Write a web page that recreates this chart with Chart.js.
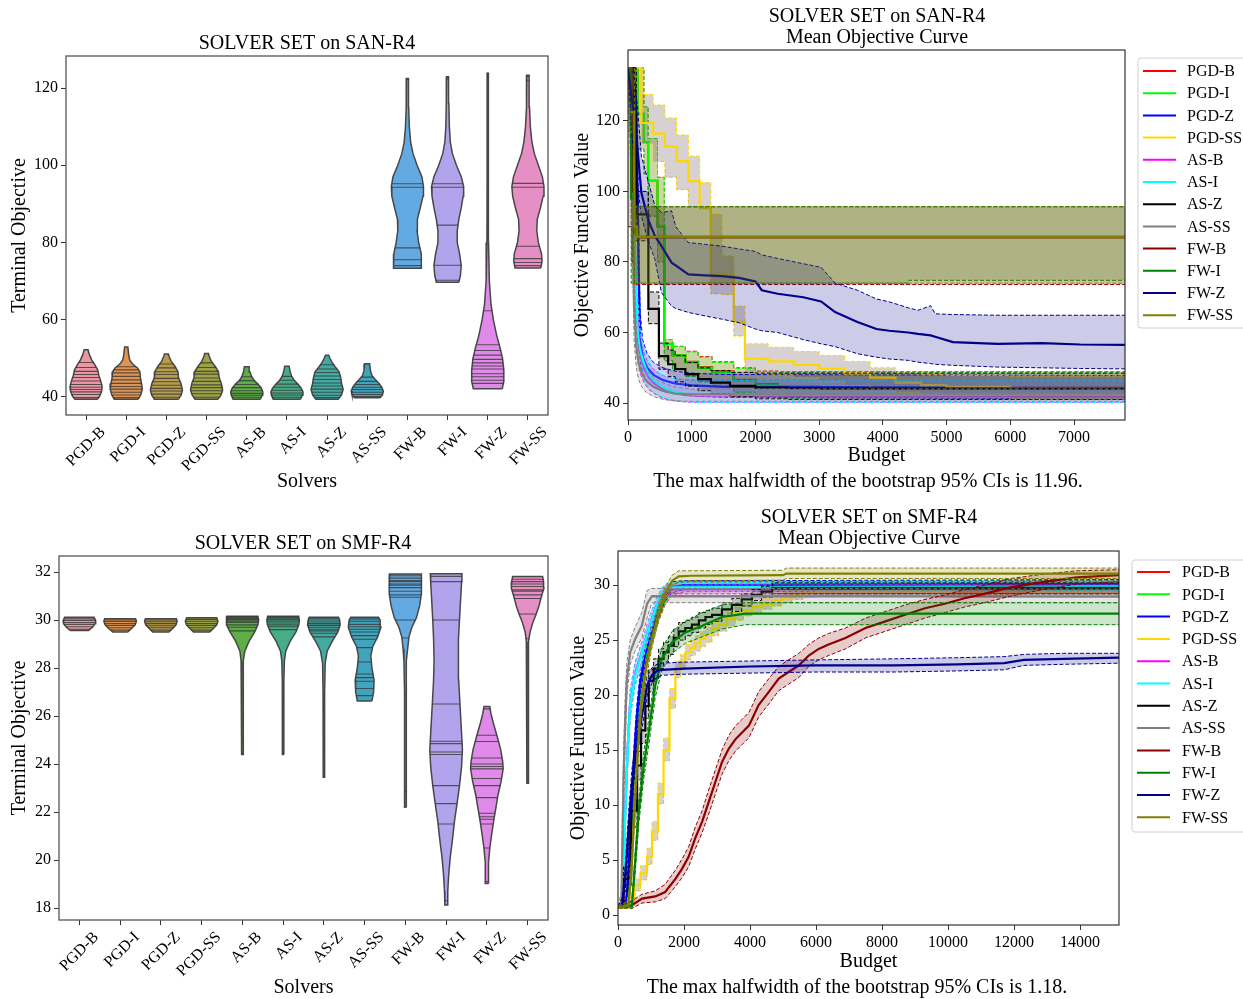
<!DOCTYPE html>
<html><head><meta charset="utf-8">
<script src="https://cdn.jsdelivr.net/npm/chart.js@4.4.1/dist/chart.umd.min.js"></script>
<style>
html,body{margin:0;padding:0;background:#fff;width:1243px;height:999px;overflow:hidden;}
canvas{position:absolute;left:0;top:0;}
</style></head><body>
<canvas id="cA" width="1243" height="1020"></canvas>
<canvas id="cB" width="1243" height="1020"></canvas>
<canvas id="cC" width="1243" height="1020"></canvas>
<canvas id="cD" width="1243" height="1020"></canvas>
<script>
// ---------------- categories ----------------
const solverNames = ['PGD-B','PGD-I','PGD-Z','PGD-SS','AS-B','AS-I','AS-Z','AS-SS','FW-B','FW-I','FW-Z','FW-SS'];

// ---------------- tick labels ----------------
const sanViolinYTicks = [40,60,80,100,120];
const smfViolinYTicks = [18,20,22,24,26,28,30,32];
const sanCurveXTicks = [0,1000,2000,3000,4000,5000,6000,7000];
const sanCurveYTicks = [40,60,80,100,120];
const smfCurveXTicks = [0,2000,4000,6000,8000,10000,12000,14000];
const smfCurveYTicks = [0,5,10,15,20,25,30];

// ---------------- violin data: [terminal objective, relative density width] ----------------
const sanViolinKnots = [
 [[39.4,0.7],[40.2,0.85],[41.5,0.97],[42.7,1.0],[44,0.92],[45.5,0.8],[47,0.72],[48.3,0.55],[49.6,0.35],[51,0.2],[52.2,0.12]],
 [[39.4,0.75],[40.5,0.9],[42,1.0],[43.5,0.95],[45,0.88],[46.5,0.85],[47.5,0.7],[48.5,0.4],[49.5,0.22],[51,0.15],[52.9,0.1]],
 [[39.4,0.75],[40.5,0.92],[41.8,1.0],[43.5,0.9],[45,0.75],[46.5,0.72],[47.8,0.55],[49.2,0.3],[50.3,0.18],[51.1,0.12]],
 [[39.4,0.72],[40.5,0.9],[41.8,1.0],[43.5,0.92],[45,0.78],[46.5,0.74],[47.8,0.55],[49.2,0.3],[50.3,0.18],[51.2,0.12]],
 [[39.4,0.85],[40.5,0.97],[41.3,1.0],[42.3,0.9],[43.3,0.7],[44.3,0.45],[45.3,0.3],[46.5,0.2],[47.8,0.15]],
 [[39.4,0.85],[40.5,0.97],[41.3,1.0],[42.3,0.88],[43.3,0.68],[44.3,0.45],[45.3,0.3],[46.5,0.2],[47.9,0.14]],
 [[39.4,0.7],[40.5,0.9],[42,1.0],[43.5,0.9],[45,0.85],[46.5,0.75],[47.8,0.5],[49,0.3],[50,0.18],[50.8,0.1]],
 [[39.8,0.8],[40.5,0.95],[41.5,1.0],[42.5,0.9],[43.5,0.72],[44.5,0.5],[45.5,0.3],[46.8,0.2],[48.6,0.15]],
 [[73.3,0.85],[75,0.88],[77,0.85],[80,0.7],[83,0.6],[86,0.62],[89,0.8],[92,0.97],[94.5,1.0],[97,0.9],[100,0.6],[103,0.35],[106,0.2],[110,0.12],[115,0.08],[120,0.07],[122.5,0.06]],
 [[69.7,0.7],[71.5,0.8],[74,0.85],[77,0.75],[80,0.6],[83,0.6],[86,0.7],[89,0.85],[92,0.97],[94.5,1.0],[97,0.85],[100,0.55],[103,0.3],[106,0.17],[110,0.11],[116,0.08],[122.9,0.06]],
 [[42.1,0.9],[44,1.0],[47,1.0],[50,0.92],[53,0.75],[56,0.55],[60,0.35],[64,0.2],[70,0.1],[80,0.05],[95,0.04],[110,0.04],[123.8,0.04]],
 [[73.4,0.8],[75,0.88],[77,0.85],[80,0.65],[83,0.55],[86,0.58],[89,0.78],[92,0.95],[94.5,1.0],[97,0.9],[100,0.65],[103,0.4],[106,0.25],[110,0.15],[115,0.1],[120,0.08],[123.3,0.07]]
];
const sanViolinSticks = [
 [39.8,40.6,41.3,41.9,42.5,43.2,44.1,45,45.8,46.6,47.6,48.9],
 [39.8,40.5,41.2,42,42.7,43.5,44.4,45.3,46.2,47,47.8],
 [39.9,40.7,41.5,42.2,43,43.9,44.8,45.8,46.5,47.5,48.5],
 [39.9,40.8,41.6,42.4,43.1,44,44.9,45.9,46.6,47.6,48.8],
 [39.9,40.4,40.9,41.6,42.4,43.2,44.2,45.2],
 [39.9,40.5,41,41.7,42.5,43.3,44.3,45.3],
 [39.8,40.4,41.2,42,42.8,43.6,44.5,45.4,46.3,47.2,48.3],
 [40.1,40.6,41.2,41.9,42.5,43.2,44,45.1],
 [74,75.5,78.6,94.3,95.2,122.2],
 [70.2,74.1,84.5,94.3,95.2,122.2,122.8],
 [43.5,44.3,45.2,46,47.2,48,48.8,49.7,50.8,52,53.5,62.3,123,123.8],
 [74,74.8,75.8,79,94.3,95.3,122,123]
];
const smfViolinKnots = [
 [[29.56,0.55],[29.7,0.8],[29.85,0.97],[29.98,1.0],[30.12,0.9]],
 [[29.5,0.45],[29.65,0.7],[29.8,0.92],[29.95,1.0],[30.06,0.95]],
 [[29.5,0.5],[29.65,0.72],[29.8,0.93],[29.95,1.0],[30.06,0.95]],
 [[29.5,0.5],[29.65,0.72],[29.8,0.93],[29.95,1.0],[30.1,0.92]],
 [[24.4,0.05],[26,0.04],[27.5,0.05],[28.3,0.08],[28.7,0.15],[29.1,0.4],[29.5,0.75],[29.8,0.95],[30,1.0],[30.16,0.95]],
 [[24.4,0.05],[26,0.04],[27.5,0.05],[28.3,0.08],[28.7,0.16],[29.1,0.42],[29.5,0.78],[29.8,0.96],[30,1.0],[30.16,0.95]],
 [[23.45,0.04],[25,0.04],[27,0.05],[28.2,0.08],[28.7,0.2],[29.1,0.5],[29.5,0.85],[29.8,1.0],[30,0.97],[30.12,0.9]],
 [[26.63,0.45],[27,0.55],[27.5,0.58],[28,0.45],[28.5,0.38],[28.9,0.5],[29.3,0.8],[29.7,1.0],[30,0.95],[30.12,0.85]],
 [[22.2,0.06],[23,0.05],[25,0.04],[27,0.05],[28.3,0.09],[28.8,0.14],[29.3,0.22],[29.7,0.4],[30.1,0.68],[30.6,0.88],[31.1,0.98],[31.5,1.0],[31.92,0.97]],
 [[18.12,0.08],[18.7,0.1],[19.4,0.16],[20.1,0.25],[20.8,0.38],[21.6,0.51],[22.4,0.68],[23.1,0.82],[23.9,0.95],[24.6,1.0],[25.5,0.93],[26.6,0.84],[27.5,0.77],[28.3,0.74],[29.2,0.77],[30,0.82],[31,0.9],[31.6,0.95],[31.93,0.97]],
 [[19.02,0.1],[19.9,0.1],[20.5,0.18],[21.1,0.3],[21.6,0.41],[22.2,0.56],[22.7,0.68],[23.3,0.88],[23.8,1.0],[24.1,0.97],[24.6,0.85],[25.2,0.61],[25.7,0.4],[26.1,0.25],[26.4,0.18]],
 [[23.2,0.05],[25,0.04],[27,0.04],[28.5,0.05],[29.1,0.08],[29.5,0.15],[29.9,0.32],[30.22,0.51],[30.6,0.7],[30.92,0.82],[31.33,1.0],[31.6,0.98],[31.82,0.92]]
];
const smfViolinSticks = [
 [29.62,29.72,29.82,29.9,29.98,30.05],
 [29.58,29.68,29.78,29.86,29.94,30.0],
 [29.58,29.68,29.76,29.85,29.93,30.0],
 [29.58,29.68,29.78,29.86,29.95,30.03],
 [24.45,29.55,29.7,29.8,29.9,29.95,30.0,30.05,30.1,30.14],
 [24.45,29.6,29.72,29.8,29.88,29.95,30.02,30.08,30.13],
 [23.5,29.3,29.45,29.55,29.62,29.7,29.78,29.85,29.92,30.0,30.08],
 [26.85,27.15,27.45,27.6,27.75,28.25,28.85,29.2,29.35,29.5,29.62,29.72,29.82,29.95,30.05],
 [22.85,29.25,30.0,30.95,31.05,31.2,31.35,31.45,31.5,31.6,31.65,31.75,31.85],
 [18.3,21.5,22.35,23.1,24.4,24.5,24.85,24.95,26.5,30.0,31.6,31.82],
 [19.1,20.5,21.5,21.7,21.8,21.95,22.6,23.1,23.4,23.8,23.9,24.0,24.25,24.94,25.2,26.3],
 [29.22,30.25,30.9,31.05,31.2,31.26,31.4,31.5,31.6,31.7]
];

// ---------------- mean objective curves: rows [budget, mean, lower CI, upper CI] ----------------
// SAN-R4
const sanPGDB = [[0,135,135,135],[150,122,112,135],[250,114,105,124],[316,103,93,115],[463,90,80,104],[570,56.8,52,58],[700,53.6,49.6,56.1],[900,51.7,47.7,54.7],[1100,50.2,46.2,53.2],[1320,49,45,51.7],[1660,46.6,43.1,50],[2000,45.4,42.1,49.1],[2350,44.7,41.4,48.9],[3000,44.4,41.1,48.9],[7800,44.4,41.1,48.9]];
const sanPGDI = [[0,135,135,135],[150,122,112,135],[250,114,105,124],[316,103,93,115],[463,90,80,104],[570,56.8,52,58],[700,53.5,49.5,56],[900,51.5,47.5,54.5],[1100,50,46,53],[1320,48.8,44.8,51.5],[1660,46.4,43,49.8],[2000,45.2,42,49],[2350,44.5,41.3,48.8],[3000,44.2,41,48.8],[7800,44.2,41,48.8]];
const sanPGDZ = [[0,135,135,135],[80,128,120,135],[120,118,106,130],[150,100,88,115],[170,75,65,88],[190,58,52,66],[230,53,48.5,58],[300,50,46,54],[400,48,44.5,51.5],[550,46.5,43.3,50],[750,45.5,42.5,49],[1000,45,42,48.5],[1500,44.6,41.6,48.1],[7800,44.3,41.2,47.8]];
const sanPGDSS = [[0,135,135,135],[210,119.4,113.5,127.5],[395,116.4,108.5,124.5],[579,112.8,104,120.8],[763,108.6,100.5,116],[947,102.9,95.5,110],[1125,95.5,95,102.5],[1300,76.3,71,93.5],[1474,76.3,70.8,81.7],[1660,63,59,67.5],[1835,52.6,48.6,56.8],[2200,51.8,48,55.8],[2600,50.8,47.2,54.6],[3000,49.8,46.2,53.5],[3400,48.4,45,51.8],[3800,47.2,44,50],[4200,45.8,43,48.5],[4600,45.1,42.3,48],[5000,44.6,41.8,47.8],[6000,44.3,41.3,47.7],[7800,44.2,41.2,47.6]];
const sanASB = [[0,135,135,135],[50,125,112,135],[90,95,80,110],[130,64,55,75],[170,56,50,62],[210,52.5,47.5,57],[260,49.5,45.5,53.5],[330,47.2,43.8,51],[400,45.8,42.8,49.5],[500,44.5,41.8,48.2],[600,43.6,41.1,47.4],[750,42.8,40.6,46.9],[900,42.3,40.3,46.6],[1100,42.1,40.2,46.5],[7800,42.1,40.2,46.5]];
const sanASI = [[0,135,135,135],[60,120,108,135],[100,88,75,102],[140,62,54,73],[180,56,50.5,62],[220,53,48.3,57.5],[270,50.3,46,54],[330,48,44.3,51.5],[400,46.5,43,49.8],[500,45,42,48.4],[600,44,41.3,47.5],[750,43.1,40.7,46.9],[900,42.6,40.4,46.6],[1100,42.3,40.2,46.5],[7800,42.3,40.2,46.5]];
const sanASZ = [[0,135,135,135],[100,122,110,135],[130,93.5,86,100],[320,66.7,62.5,71.5],[485,53.3,49.6,57],[630,51,47.5,55],[740,49.6,46,53.5],[900,48.2,44.8,51.5],[1100,46.8,43.5,50],[1300,45.8,42.6,49.2],[1600,44.9,41.8,48.7],[2000,44.4,41.2,48.5],[2500,44.2,41,48.5],[3000,44.1,41,48.5],[7800,44.1,41,48.5]];
const sanASSS = [[0,135,135,135],[60,110,95,125],[95,67,58,78],[130,56,50,61],[170,51,46.5,54.5],[210,48.7,44.8,52],[260,47,43.5,50],[316,45.8,42.7,48.7],[400,44.6,41.9,47.2],[474,44,41.4,46.4],[600,43.2,40.9,45.3],[740,42.7,40.6,44.6],[1000,42.5,40.5,44],[7800,42.5,40.5,44]];
const sanFWB = [[0,135,90,135],[60,100,80,120],[100,89,73.6,96],[150,87,73.6,95.7],[7800,87,73.6,95.7]];
const sanFWI = [[0,135,135,135],[50,98,74,118],[100,88,74,95.7],[150,87.1,74,95.7],[4400,87.1,74.8,95.7],[7800,87.1,74.8,95.7]];
const sanFWZ = [[0,135,135,135],[60,126,116,135],[100,122,110,131],[150,112,102,124],[210,99.6,93,110],[316,92.1,86,103],[421,87.4,80.8,96],[526,84.5,71.3,94],[684,79.8,67.5,94.5],[750,79,66.8,90],[947,76.5,65.7,85.5],[1210,76.2,64.7,85],[1470,76,63.8,84.5],[1740,75.5,62.8,83.7],[2000,74.5,61,83],[2100,72,60.5,82],[2350,71,60,81],[2750,70,58,79.5],[3030,68.8,56.8,78.5],[3250,65.8,56,74],[3600,63,54,72],[3900,61,53,69.5],[4100,60.5,52.5,68.7],[4400,60,52.1,67],[4550,59.6,51.6,66.3],[4750,59.2,51.2,67.6],[4820,58.8,51,65.3],[5100,57.3,50.7,65.1],[5800,56.8,50.2,64.9],[6500,57,50,64.9],[7100,56.6,49.8,64.9],[7800,56.5,49.7,64.9]];
const sanFWSS = [[0,122.5,117,135],[100,90,74,95.6],[140,87.1,74,95.6],[7800,87.1,74,95.6]];
// SMF-R4
const smfPGDB = [[0,0.7,0.6,0.8],[260,1,0.7,1.4],[330,3.5,2.5,4.6],[430,9.8,8.6,11],[510,14.5,13.3,15.7],[590,18,16.9,19.1],[690,20.8,19.8,21.8],[840,23.4,22.5,24.3],[1040,25.5,24.7,26.3],[1240,27.5,26.8,28.2],[1440,28.9,28.3,29.5],[1650,29.6,29.1,30.1],[2000,29.8,29.4,30.3],[15180,29.9,29.5,30.3]];
const smfPGDI = [[0,0.7,0.6,0.8],[250,1,0.7,1.4],[320,3.3,2.3,4.4],[420,9.4,8.2,10.6],[500,14.2,13,15.4],[580,17.8,16.7,18.9],[680,20.6,19.6,21.6],[830,23.3,22.4,24.2],[1030,25.4,24.6,26.2],[1230,27.5,26.8,28.2],[1430,29,28.4,29.6],[1640,29.8,29.3,30.3],[2000,30,29.6,30.4],[15180,30,29.6,30.4]];
const smfPGDZ = [[0,0.7,0.6,0.8],[240,1,0.7,1.4],[310,3.5,2.5,4.6],[410,9.8,8.6,11],[490,14.5,13.3,15.7],[570,18,16.9,19.1],[670,21,20,22],[820,23.6,22.7,24.5],[1020,25.7,24.9,26.5],[1220,27.7,27,28.4],[1420,29.1,28.5,29.7],[1630,29.8,29.3,30.3],[2000,30,29.6,30.4],[15180,30.1,29.7,30.5]];
const smfPGDSS = [[0,0.7,0.6,0.8],[320,1.5,1.1,2],[505,2.7,2.2,3.3],[680,3.8,3.2,4.5],[880,5.3,4.6,6.1],[1030,7.6,6.8,8.5],[1210,11,10.1,12],[1380,15,14,16.1],[1560,19.7,18.8,20.6],[1740,22.4,21.6,23.1],[1890,23,22.3,23.7],[2040,23.9,23.2,24.6],[2200,24.3,23.6,25],[2340,24.7,24,25.4],[2500,25.1,24.4,25.8],[2650,25.5,24.8,26.2],[2850,26,25.4,26.6],[3050,26.4,25.8,27],[3300,26.9,26.3,27.5],[3550,27.4,26.8,28],[3800,27.7,27.2,28.2],[4060,28,27.5,28.5],[4350,28.3,27.8,28.8],[4670,28.6,28.1,29.1],[4970,28.85,28.4,29.3],[5270,29.1,28.7,29.5],[5600,29.3,28.9,29.7],[6000,29.4,29,29.8],[15180,29.4,29,29.8]];
const smfASB = [[0,0.7,0.6,0.8],[120,1,0.7,1.5],[170,3.5,2.2,5],[220,9.6,8,11.2],[300,15.6,14.2,17],[370,19.3,18.1,20.5],[520,22,21,23],[730,24,23.1,24.9],[930,26.1,25.3,26.9],[1130,27.9,27.2,28.6],[1330,29.2,28.7,29.7],[1490,29.6,29.2,30],[15180,29.7,29.25,30.1]];
const smfASI = [[0,0.7,0.6,0.8],[120,1,0.7,1.5],[170,3.3,2,4.8],[220,9.4,7.8,11],[300,15.4,14,16.8],[370,19.1,17.9,20.3],[520,21.8,20.8,22.8],[730,23.9,23,24.8],[930,26,25.2,26.8],[1130,27.8,27.1,28.5],[1330,29.3,28.8,29.8],[1490,29.8,29.4,30.2],[15180,29.9,29.5,30.3]];
const smfASZ = [[0,0.7,0.6,0.8],[120,0.9,0.7,1.3],[170,3.3,2.2,4.4],[330,3.5,2.5,4.5],[400,9.5,8,11],[580,13.6,12.3,14.9],[700,16.8,15.6,18],[830,19,17.9,20.1],[930,21.3,20.3,22.3],[1080,22.4,21.5,23.3],[1230,23.3,22.4,24.2],[1380,23.9,23,24.8],[1530,24.5,23.7,25.3],[1690,25.2,24.4,26],[1840,25.8,25,26.6],[2040,26.1,25.4,26.8],[2240,26.4,25.7,27.1],[2450,26.8,26.1,27.5],[2650,27.1,26.4,27.7],[2850,27.3,26.7,27.9],[3150,27.8,27.2,28.4],[3450,28.2,27.6,28.8],[3750,28.7,28.1,29.2],[4060,29.1,28.6,29.6],[4350,29.4,28.9,29.9],[4670,29.7,29.2,30.2],[15180,29.8,29.2,30.45]];
const smfASSS = [[0,0.7,0.6,0.8],[100,1,0.7,2],[130,6,4,9],[170,12.7,10,15],[220,17.8,15.5,20],[270,21.5,20,23],[370,23.9,22.8,25],[520,25.1,24,26.2],[720,26.3,25.2,27.5],[880,28.3,27,29.5],[1030,29,28.4,29.7],[15180,28.95,28.4,29.65]];
const smfFWB = [[0,0.7,0.6,0.8],[220,0.76,0.6,1],[420,0.9,0.6,1.3],[730,1.5,1.1,1.9],[1130,1.7,1.2,2.2],[1430,2.1,1.5,2.8],[1740,3.3,2.6,4.1],[1940,4.2,3.4,5.1],[2140,5.3,4.4,6.2],[2340,7,6,8],[2550,8.5,7.5,9.5],[2750,10.3,9.2,11.4],[2950,12.1,11,13.2],[3150,13.9,12.8,15],[3350,15.1,14,16.3],[3560,16,14.9,17.2],[3760,16.6,15.5,17.8],[3960,17.2,16.1,18.4],[4060,17.8,16.7,19],[4260,19.1,18,20.3],[4570,20.3,19.2,21.5],[4870,21.5,20.4,22.6],[5170,22.1,21,23.2],[5480,22.7,21.6,23.8],[5780,23.6,22.6,24.6],[6080,24.2,23.2,25.2],[6380,24.6,23.6,25.6],[6890,25.2,24.2,26.1],[7500,26.1,25.2,27],[8100,26.7,25.8,27.6],[8700,27.3,26.4,28.2],[9300,27.9,27,28.7],[9900,28.3,27.5,29.1],[10500,28.8,28,29.6],[11100,29.2,28.4,30],[11900,29.8,29,30.6],[12900,30.3,29.6,31],[13900,30.7,30.1,31.3],[15180,30.9,30.3,31.4]];
const smfFWI = [[0,0.7,0.6,0.8],[420,0.8,0.6,1.2],[520,4.8,3.8,5.8],[630,9.4,8.3,10.5],[780,13.6,12.4,14.8],[930,16.6,15.4,17.8],[1130,20.9,19.8,22],[1330,23.3,22.3,24.3],[1640,24.8,23.8,25.8],[2040,25.7,24.7,26.7],[2550,26.3,25.3,27.5],[3150,27.1,26,28.2],[3860,27.4,26.4,28.4],[15180,27.4,26.4,28.4]];
const smfFWZ = [[0,0.7,0.6,0.8],[120,0.9,0.7,1.5],[220,3.3,2.2,4.5],[320,7.9,6.6,9.3],[420,11.8,10.5,13.2],[520,14.2,13,15.4],[630,16.6,15.4,17.8],[780,19.1,17.9,20.2],[880,20.9,19.9,21.7],[1030,21.8,21.1,22.5],[1180,22.2,21.6,22.8],[1330,22.3,21.8,22.9],[2000,22.4,21.9,23],[4000,22.6,22,23.1],[6000,22.7,22.1,23.2],[8400,22.7,22.1,23.3],[10300,22.8,22.2,23.4],[11700,22.9,22.3,23.5],[12300,23.2,22.7,23.7],[13500,23.3,22.8,23.8],[15180,23.4,22.9,23.8]];
const smfFWSS = [[0,0.7,0.6,0.8],[320,0.9,0.6,1.3],[420,4.8,3.8,5.8],[500,9.4,8.3,10.5],[580,13.9,12.8,15],[680,18.4,17.4,19.4],[830,22.1,21.2,23],[1030,25.1,24.3,25.9],[1230,27.5,26.8,28.2],[1430,29.2,28.6,29.8],[1640,30.4,29.9,30.9],[1840,30.8,30.3,31.3],[2200,30.85,30.4,31.3],[5000,30.9,30.45,31.35],[5100,31.05,30.6,31.55],[15180,31.05,30.6,31.55]];

const sanSeries = [sanPGDB,sanPGDI,sanPGDZ,sanPGDSS,sanASB,sanASI,sanASZ,sanASSS,sanFWB,sanFWI,sanFWZ,sanFWSS];
const smfSeries = [smfPGDB,smfPGDI,smfPGDZ,smfPGDSS,smfASB,smfASI,smfASZ,smfASSS,smfFWB,smfFWI,smfFWZ,smfFWSS];
const sanStepped = ['PGD-B','PGD-I','PGD-SS','AS-Z','FW-B','FW-I','FW-SS'];
const smfStepped = ['PGD-SS','AS-Z'];

// ---------------- styles ----------------
const violinColors = ['#ea96a3','#e0944f','#b89d4a','#9ea445','#5cae45','#45ae88','#43aaa3','#41a4bc','#63aae3','#b2a4ec','#df8ae9','#e68fc4'];
const lineColors = ['#ff0000','#00ff00','#0000ff','#ffd700','#ff00ff','#00ffff','#000000','#808080','#8b0000','#008000','#00008b','#808000'];
const FONT = '"Liberation Serif", "Times New Roman", serif';
Chart.defaults.font.family = FONT;
Chart.defaults.color = '#000';
const CW = 1243, CH = 1020, VW = 0.4, BIG = 20;

function hexA(h, a){const n=parseInt(h.slice(1),16);return 'rgba('+((n>>16)&255)+','+((n>>8)&255)+','+(n&255)+','+a+')';}
function widthAt(knots, v){
  if (v <= knots[0][0]) return knots[0][1];
  for (let i=1;i<knots.length;i++){ if (v <= knots[i][0]) { const a=knots[i-1], b=knots[i]; return a[1]+(b[1]-a[1])*(v-a[0])/(b[0]-a[0]); } }
  return knots[knots.length-1][1];
}

const framePlugin = {id:'frame', afterDatasetsDraw(chart, args, o){
  const a = chart.chartArea, ctx = chart.ctx; ctx.save(); ctx.strokeStyle = o.color || '#000'; ctx.lineWidth = o.width || 1;
  ctx.strokeRect(a.left, a.top, a.right-a.left, a.bottom-a.top); ctx.restore(); }};
const textPlugin = {id:'texts', afterDraw(chart, args, o){
  const ctx = chart.ctx; ctx.save(); ctx.fillStyle = '#000'; ctx.textAlign = 'center'; ctx.textBaseline = 'middle';
  (o.items||[]).forEach(it => { ctx.font = (it.size||BIG)+'px '+FONT; ctx.fillText(it.t, it.x, it.y); }); ctx.restore(); }};
const legendPlugin = {id:'boxLegend', afterDraw(chart, args, o){
  if (!o.x) return; const ctx = chart.ctx; ctx.save();
  const r=3, x=o.x, y=o.y, w=o.w, h=o.h;
  ctx.beginPath(); ctx.moveTo(x+r,y); ctx.lineTo(x+w-r,y); ctx.arcTo(x+w,y,x+w,y+r,r); ctx.lineTo(x+w,y+h-r); ctx.arcTo(x+w,y+h,x+w-r,y+h,r);
  ctx.lineTo(x+r,y+h); ctx.arcTo(x,y+h,x,y+h-r,r); ctx.lineTo(x,y+r); ctx.arcTo(x,y,x+r,y,r); ctx.closePath();
  ctx.fillStyle='rgba(255,255,255,0.85)'; ctx.fill(); ctx.strokeStyle='#d0d0d0'; ctx.lineWidth=1; ctx.stroke();
  ctx.font = '16px '+FONT; ctx.textAlign='left'; ctx.textBaseline='middle';
  solverNames.forEach((n,i)=>{ const yy = o.y0 + i*o.dy; ctx.strokeStyle = lineColors[i]; ctx.lineWidth = 2;
    ctx.beginPath(); ctx.moveTo(o.x0, yy); ctx.lineTo(o.x1, yy); ctx.stroke(); ctx.fillStyle='#000'; ctx.fillText(n, o.tx, yy+1); });
  ctx.restore(); }};

function axisCommon(ticksArr, fit, fitProp, min, max){
  return {type:'linear', min:min, max:max, bounds:'data',
    afterBuildTicks: s => { s.ticks = ticksArr.map(v => ({value:v})); },
    afterFit: s => { s[fitProp] = fit; },
    grid:{display:true, drawOnChartArea:false, drawTicks:true, tickLength:5, tickColor:'#333', lineWidth:1},
    border:{display:false}};
}

function violinChart(id, box, Wy, Hx, knotsList, sticksList, yMin, yMax, yTicks, titleItems){
  const datasets = [];
  knotsList.forEach((knots, i) => {
    const pts = [];
    knots.forEach(k => pts.push({x: i + k[1]*VW, y: k[0]}));
    for (let j = knots.length-1; j >= 0; j--) pts.push({x: i - knots[j][1]*VW, y: knots[j][0]});
    pts.push({x: pts[0].x, y: pts[0].y});
    datasets.push({data: pts, showLine: true, fill: 'shape', backgroundColor: violinColors[i], borderColor: '#474747', borderWidth: 1.5, pointRadius: 0, tension: 0, order: 2});
    const st = [];
    sticksList[i].forEach(v => { const w = widthAt(knots, v)*VW; st.push({x: i-w, y: v}, {x: i+w, y: v}, {x: i, y: null}); });
    datasets.push({data: st, showLine: true, fill: false, borderColor: 'rgba(55,55,55,0.8)', borderWidth: 1.1, pointRadius: 0, spanGaps: false, order: 1});
  });
  const x = axisCommon(solverNames.map((c,i)=>i), Hx, 'height', -0.5, solverNames.length-0.5);
  x.ticks = {autoSkip:false, minRotation:45, maxRotation:45, labelOffset:17, padding:3, font:{size:16}, color:'#000', callback: v => solverNames[v]};
  x.title = {display:true, text:'Solvers', font:{size:BIG}, color:'#000'};
  const y = axisCommon(yTicks, Wy, 'width', yMin, yMax);
  y.ticks = {font:{size:16}, color:'#000', padding:3, callback: v => String(v)};
  y.title = {display:true, text:'Terminal Objective', font:{size:BIG}, color:'#000'};
  return new Chart(document.getElementById(id), {type:'scatter', data:{datasets},
    plugins:[framePlugin, textPlugin],
    options:{responsive:false, animation:false, devicePixelRatio:1,
      layout:{padding:{left:box.L-Wy, top:box.T, right:CW-box.R, bottom:CH-box.B-Hx}},
      plugins:{legend:{display:false}, tooltip:{enabled:false}, frame:{color:'#555', width:1.3}, texts:{items:titleItems}},
      scales:{x, y}}});
}

function curveChart(id, box, Wy, Hx, series, stepped, xMin, xMax, xTicks, yMin, yMax, yTicks, textItems, legend){
  const datasets = [];
  series.forEach((rows, k) => {
    const name = solverNames[k], col = lineColors[k], st = stepped.includes(name);
    const fillCol = name === 'PGD-SS' ? 'rgba(110,90,90,0.28)' : hexA(col, 0.2);
    const ord = 100 - k*3;
    datasets.push({label:name+' upper', data: rows.map(r=>({x:r[0], y:r[3]})), borderColor: col, borderWidth: 1, borderDash:[4,2], fill:'+1', backgroundColor: fillCol, stepped: st, pointRadius:0, order: ord});
    datasets.push({label:name+' lower', data: rows.map(r=>({x:r[0], y:r[2]})), borderColor: col, borderWidth: 1, borderDash:[4,2], fill:false, stepped: st, pointRadius:0, order: ord});
    datasets.push({label:name, data: rows.map(r=>({x:r[0], y:r[1]})), borderColor: col, borderWidth: 2.2, fill:false, stepped: st, pointRadius:0, order: ord-1});
  });
  const x = axisCommon(xTicks, Hx, 'height', xMin, xMax);
  x.ticks = {autoSkip:false, maxRotation:0, padding:3, font:{size:16}, color:'#000', callback: v => String(v)};
  x.title = {display:true, text:'Budget', font:{size:BIG}, color:'#000'};
  const y = axisCommon(yTicks, Wy, 'width', yMin, yMax);
  y.ticks = {font:{size:16}, color:'#000', padding:3, callback: v => String(v)};
  y.title = {display:true, text:'Objective Function Value', font:{size:BIG}, color:'#000'};
  return new Chart(document.getElementById(id), {type:'line', data:{datasets},
    plugins:[framePlugin, textPlugin, legendPlugin],
    options:{responsive:false, animation:false, devicePixelRatio:1,
      layout:{padding:{left:box.L-Wy, top:box.T, right:CW-box.R, bottom:CH-box.B-Hx}},
      plugins:{legend:{display:false}, tooltip:{enabled:false}, frame:{color:'#222', width:1.1}, texts:{items:textItems}, boxLegend: legend},
      scales:{x, y}}});
}

violinChart('cA', {L:66, T:56, R:548, B:415}, 62, 83, sanViolinKnots, sanViolinSticks, 35.3, 128.3, sanViolinYTicks,
  [{t:'SOLVER SET on SAN-R4', x:307, y:44}]);
violinChart('cC', {L:59, T:556, R:548, B:920}, 55, 84, smfViolinKnots, smfViolinSticks, 17.5, 32.67, smfViolinYTicks,
  [{t:'SOLVER SET on SMF-R4', x:303, y:544}]);
curveChart('cB', {L:628, T:50, R:1125, B:420}, 61, 52, sanSeries, sanStepped, 0, 7800, sanCurveXTicks, 35.2, 140.1, sanCurveYTicks,
  [{t:'SOLVER SET on SAN-R4', x:877, y:17},{t:'Mean Objective Curve', x:877, y:38},{t:'The max halfwidth of the bootstrap 95% CIs is 11.96.', x:868, y:482}],
  {x:1138, y:58, w:120, h:270, x0:1143, x1:1176, tx:1187, y0:71, dy:22.2});
curveChart('cD', {L:618, T:551, R:1119, B:925}, 55, 53, smfSeries, smfStepped, 0, 15180, smfCurveXTicks, -0.9, 33.1, smfCurveYTicks,
  [{t:'SOLVER SET on SMF-R4', x:869, y:518},{t:'Mean Objective Curve', x:869, y:539},{t:'The max halfwidth of the bootstrap 95% CIs is 1.18.', x:857, y:988}],
  {x:1132, y:560, w:120, h:272, x0:1137, x1:1170, tx:1182, y0:572, dy:22.3});
</script>
</body></html>
